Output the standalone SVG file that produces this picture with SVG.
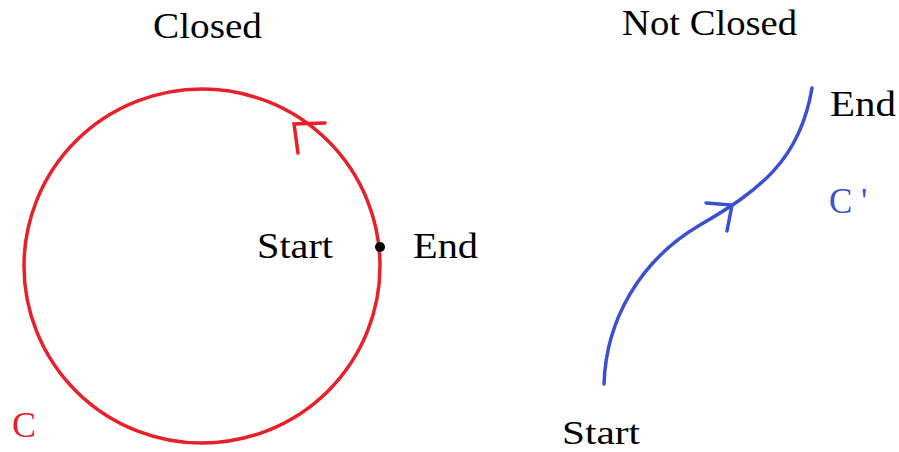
<svg xmlns="http://www.w3.org/2000/svg" width="899" height="452" viewBox="0 0 899 452">
<style>
text{font-family:"Liberation Serif","Times New Roman",serif;font-size:35px;fill:#000}
.red{stroke:#e8202a;stroke-width:3.5;fill:none;stroke-linecap:round}
.blue{stroke:#3c4fd0;stroke-width:3.5;fill:none;stroke-linecap:round}
</style>
<rect width="899" height="452" fill="#fff"/>
<g id="closed-title"><text x="153" y="38" textLength="109" lengthAdjust="spacingAndGlyphs">Closed</text></g>
<g id="notclosed-title"><text x="622" y="35" textLength="175" lengthAdjust="spacingAndGlyphs">Not Closed</text></g>
<g id="connectors">
<g id="curve-C">
<ellipse class="red" cx="202" cy="266" rx="178" ry="177"/>
<path class="red" d="M325,123 L294,124 L298,153"/>
</g>
<g id="curve-Cprime">
<path class="blue" d="M604,384 C606,320 640,260 700,225 S800,160 812,88"/>
<path class="blue" d="M706,203 L732,205 L727,231"/>
</g>
</g>
<g id="point-start-end">
<circle cx="380" cy="247" r="5" fill="#000"/>
<text x="257" y="258" textLength="76" lengthAdjust="spacingAndGlyphs">Start</text>
<text x="413" y="258" textLength="65" lengthAdjust="spacingAndGlyphs">End</text>
</g>
<g id="label-C"><text x="12" y="437" style="fill:#e8202a" textLength="24" lengthAdjust="spacingAndGlyphs">C</text></g>
<g id="label-Cprime"><text x="829" y="213" style="fill:#3c4fd0">C '</text></g>
<g id="cprime-end"><text x="830" y="116" textLength="66" lengthAdjust="spacingAndGlyphs">End</text></g>
<g id="cprime-start"><text x="562" y="444" style="font-size:33px" textLength="78" lengthAdjust="spacingAndGlyphs">Start</text></g>
</svg>
